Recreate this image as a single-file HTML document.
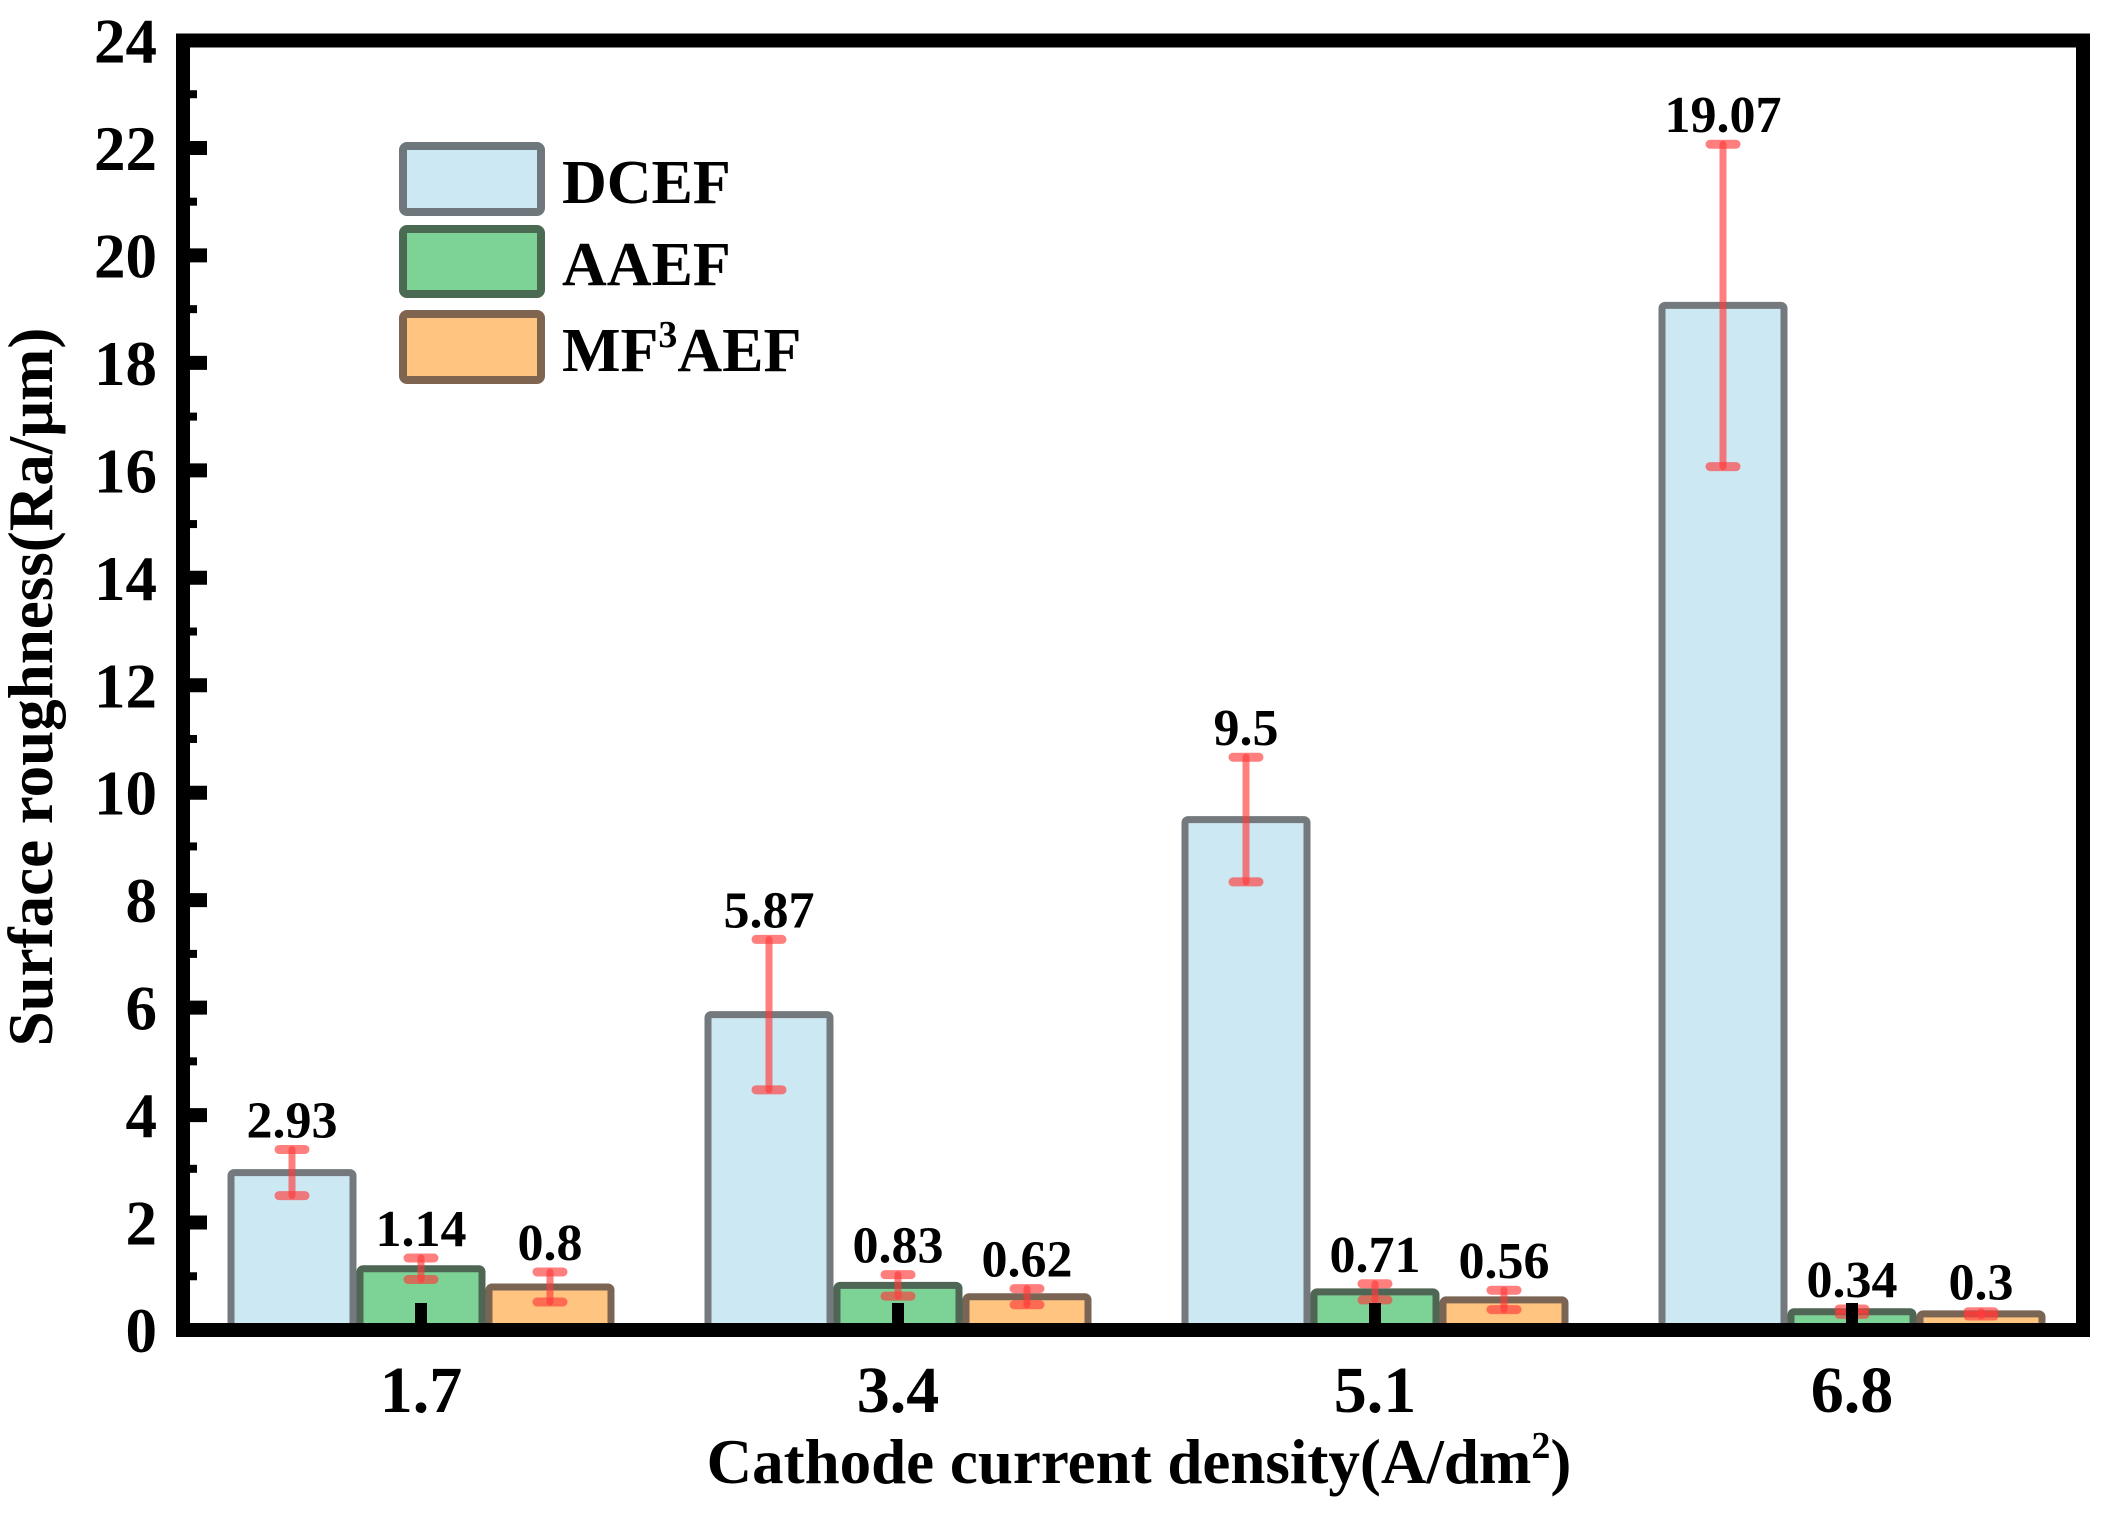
<!DOCTYPE html>
<html><head><meta charset="utf-8"><style>
html,body{margin:0;padding:0;background:#fff;}
svg{display:block;}
text{font-family:"Liberation Serif",serif;font-weight:bold;fill:#000;}
</style></head><body>
<svg id="chart" width="2114" height="1522" viewBox="0 0 2114 1522" xmlns="http://www.w3.org/2000/svg">
<g id="plot"></g>
<g id="frame"></g>
<g id="legend">
  <rect x="403" y="146" width="138" height="66" rx="4" fill="#cce8f2" stroke="#6e787c" stroke-width="8"/>
  <text x="562" y="203" font-size="62">DCEF</text>
  <rect x="403" y="229" width="138" height="65" rx="4" fill="#7dd396" stroke="#4a6a52" stroke-width="8"/>
  <text x="562" y="285" font-size="62">AAEF</text>
  <rect x="403" y="314" width="138" height="66" rx="4" fill="#ffc47f" stroke="#7f6450" stroke-width="8"/>
  <text x="562" y="371" font-size="62">MF<tspan font-size="38" dy="-24">3</tspan><tspan dy="24">AEF</tspan></text>
</g>
<text x="1139" y="1483" font-size="63" text-anchor="middle">Cathode current density(A/dm<tspan font-size="38" dy="-25">2</tspan><tspan dy="25">)</tspan></text>
<text transform="translate(52,687) rotate(-90)" font-size="63" text-anchor="middle">Surface roughness(Ra/μm)</text>
</svg>
<script>
const categories = ["1.7","3.4","5.1","6.8"];
const seriesNames = ["DCEF","AAEF","MF3AEF"];
const dcef = [2.93,5.87,9.5,19.07];
const aaef = [1.14,0.83,0.71,0.34];
const mf3aef = [0.8,0.62,0.56,0.3];
const dcefErr = [0.43,1.4,1.16,3.0];
const aaefErr = [0.2,0.2,0.15,0.05];
const mf3aefErr = [0.28,0.15,0.18,0.04];
const valueLabels = [["2.93","5.87","9.5","19.07"],["1.14","0.83","0.71","0.34"],["0.8","0.62","0.56","0.3"]];
const yTicks = [0,2,4,6,8,10,12,14,16,18,20,22,24];

const NS="http://www.w3.org/2000/svg";
const y0=1330, y24=40.5, yMax=24;
function yScale(v){return y0-(y0-y24)*v/yMax;}
const xFirst=421, xStep=477;
function xScale(i){return xFirst+i*xStep;}
const offsets=[-129,0,129], barW=122;
const fills=["#cce8f2","#7dd396","#ffc47f"];
const strokes=["#73797c","#4f6654","#7a6453"];
const allVals=[dcef,aaef,mf3aef], allErr=[dcefErr,aaefErr,mf3aefErr];
const plot=document.getElementById('plot');
function mk(tag,attrs,parent){const e=document.createElementNS(NS,tag);for(const k in attrs)e.setAttribute(k,attrs[k]);parent.appendChild(e);return e;}

categories.forEach((c,i)=>{
  const g=mk('g',{},plot);
  
  
  for(let s=0;s<3;s++){
    const v=allVals[s][i], e=allErr[s][i];
    const cx=xScale(i)+offsets[s];
    const r=mk('rect',{x:cx-barW/2,y:yScale(v),width:barW,height:y0-yScale(v),fill:fills[s],stroke:strokes[s],'stroke-width':7,rx:3},g);
    
    
    const eg=mk('g',{stroke:'#ff3b3b','stroke-opacity':0.65,'stroke-width':7,'stroke-linecap':'round'},g);
    
    
    const yt=yScale(v+e), yb=yScale(v-e);
    mk('line',{x1:cx,x2:cx,y1:yt,y2:yb},eg);
    mk('line',{x1:cx-13,x2:cx+13,y1:yt,y2:yt,'stroke-width':9},eg);
    mk('line',{x1:cx-13,x2:cx+13,y1:yb,y2:yb,'stroke-width':9},eg);
    const t=mk('text',{x:cx,y:yt-12,'font-size':52,'text-anchor':'middle'},g);
    t.textContent=valueLabels[s][i];
    
    
  }
  const m=mk('rect',{x:xScale(i)-6,y:y0-27,width:12,height:27,fill:'#000'},g);
  
  
  const xl=mk('text',{x:xScale(i),y:1412,'font-size':66,'text-anchor':'middle'},g);
  xl.textContent=c;
  
  
});

const frame=document.getElementById('frame');
const fr=mk('path',{d:'M183 '+y0+' V40.5 H2083 V'+y0+' H176',fill:'none',stroke:'#000','stroke-width':14},frame);


for(let v=0;v<=yMax;v++){
  const y=yScale(v), major=v%2===0;
  if(v>0&&v<yMax){
    const tk=mk('line',{x1:183,x2:major?207:197,y1:y,y2:y,stroke:'#000','stroke-width':major?14:8},frame);
    
    
  }
}
yTicks.forEach(v=>{
  const t=mk('text',{x:157,y:yScale(v)+22,'font-size':63,'text-anchor':'end'},frame);
  t.textContent=v;
  
  
});
</script>
</body></html>
